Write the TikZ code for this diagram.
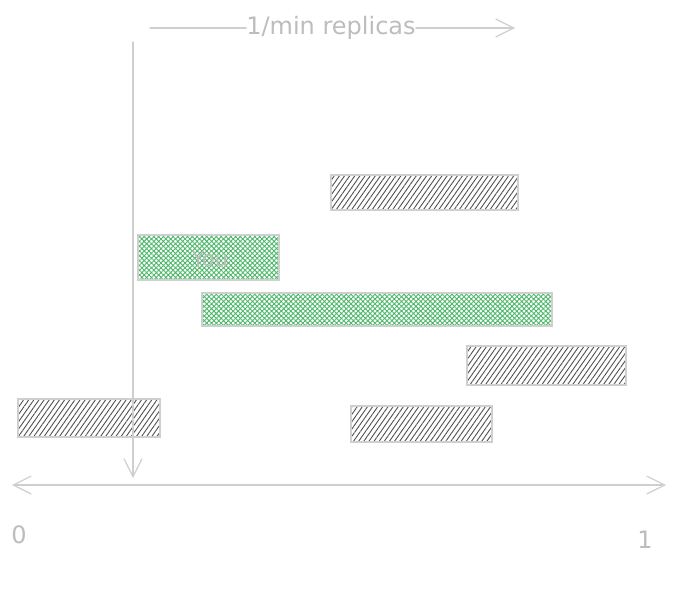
\documentclass[tikz,border=0pt]{standalone}
\usepackage{fontspec}
\setmainfont{DejaVu Sans}
\usetikzlibrary{patterns.meta,arrows.meta}
\definecolor{inkline}{HTML}{CFCFCF}
\definecolor{inktext}{HTML}{BDBDBD}
\definecolor{hatchgray}{HTML}{505050}
\definecolor{hatchgreen}{HTML}{4DB86A}
\tikzset{
  x=1pt, y=-1pt,
  conn/.style={draw=inkline, line width=1.2pt, line cap=round},
  barb/.tip={Straight Barb[length=18pt,width=18pt,line width=1.2pt]},
  openhead/.style={-barb},
  greybar/.style={draw=inkline, line width=1.2pt,
    pattern={Lines[angle=55,distance=4.2pt,line width=0.9pt]}, pattern color=hatchgray},
  greenbar/.style={draw=inkline, line width=1.2pt,
    pattern={Hatch[angle=45,distance=3.4pt,line width=0.9pt]}, pattern color=hatchgreen},
  lbl/.style={text=inktext, font=\fontsize{24}{28}\selectfont, inner sep=1pt},
}
\begin{document}
\begin{tikzpicture}
\useasboundingbox (0,0) rectangle (676,602);
\fill[white] (0,0) rectangle (676,602);

% bars
\path[greybar] (331,175) rectangle (518,210);
\path[greybar] (18,399) rectangle (160,437);
\path[greybar] (467,346) rectangle (626,385);
\path[greybar] (351,406) rectangle (492,442);
\path[greenbar] (138,235) rectangle (279,280);
\path[greenbar] (202,293) rectangle (552,326);
\node[text=inktext, font=\fontsize{21}{24}\selectfont] (you) at (210,259) {You};

% axis
\coordinate (axl) at (12,485);
\coordinate (axr) at (666,485);
\draw[conn, barb-barb] (axl) -- (axr);
\node[lbl] (zero) at (19,535) {0};
\node[lbl] (one) at (645,540) {1};

% vertical marker
\coordinate (vtop) at (133,42);
\coordinate (vbot) at (133,478);
\draw[conn, openhead] (vtop) -- (vbot);

% top label with arrow
\node[lbl, inner sep=0pt] (rate) at (331,28) {1/min replicas};
\coordinate (rl) at (150,28);
\coordinate (rr) at (515,28);
\draw[conn] (rl) -- (rate.west);
\draw[conn, openhead] (rate.east) -- (rr);
\end{tikzpicture}
\end{document}
